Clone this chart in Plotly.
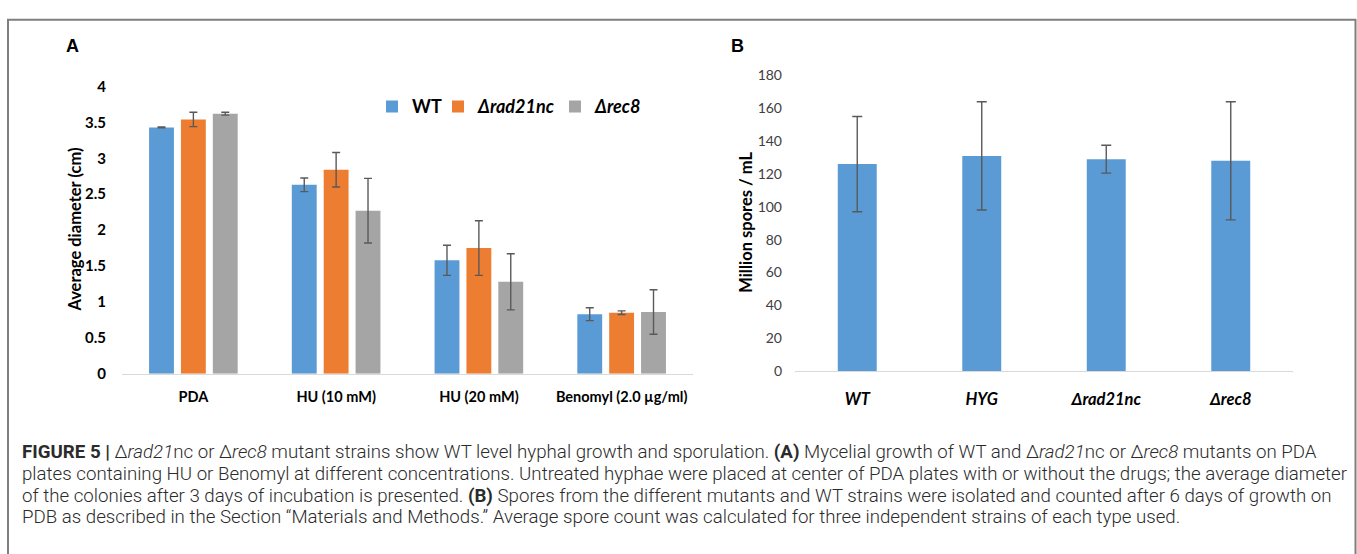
import plotly.graph_objects as go

W, H = 1357, 554

# ---------------- data ----------------
conditions = ["PDA", "HU (10 mM)", "HU (20 mM)", "Benomyl (2.0 µg/ml)"]
wt_diam = [3.43, 2.63, 1.58, 0.83]
wt_err = [0.005, 0.095, 0.21, 0.09]
rad21_diam = [3.54, 2.84, 1.75, 0.85]
rad21_err = [0.10, 0.24, 0.38, 0.025]
rec8_diam = [3.62, 2.27, 1.28, 0.86]
rec8_err = [0.02, 0.45, 0.39, 0.31]

strains = ["WT", "HYG", "Δrad21nc", "Δrec8"]
spores = [126, 131, 129, 128]
spores_err = [29, 33, 8.5, 36]

series_names = ["WT", "Δrad21nc", "Δrec8"]
colors = ["#5B9BD5", "#ED7D31", "#A5A5A5"]

caption_lines = [
    "<b>FIGURE 5 |</b> Δ<i>rad21</i>nc or Δ<i>rec8</i> mutant strains show WT level hyphal growth and sporulation. "
    "<b>(A)</b> Mycelial growth of WT and Δ<i>rad21</i>nc or Δ<i>rec8</i> mutants on PDA",
    "plates containing HU or Benomyl at different concentrations. Untreated hyphae were placed at center of PDA "
    "plates with or without the drugs; the average diameter",
    "of the colonies after 3 days of incubation is presented. <b>(B)</b> Spores from the different mutants and WT "
    "strains were isolated and counted after 6 days of growth on",
    "PDB as described in the Section “Materials and Methods.” Average spore count was calculated for three "
    "independent strains of each type used.",
]

# ---------------- helpers ----------------
def px_x(x):
    return x / W


def px_y(y):
    return 1 - y / H


FONT = "Lato, 'Open Sans', sans-serif"
ERR_COLOR = "#595959"

fig = go.Figure()

vals = [wt_diam, rad21_diam, rec8_diam]
errs = [wt_err, rad21_err, rec8_err]
legends = ["legend", "legend2", "legend3"]
for name, v, e, c, lg in zip(series_names, vals, errs, colors, legends):
    disp = "<b>%s</b>" % name if name == "WT" else "<b><i>%s</i></b>" % name
    fig.add_trace(go.Bar(
        x=conditions, y=v, name=disp, marker=dict(color=c, line=dict(width=0)),
        error_y=dict(type="data", array=e, color=ERR_COLOR, thickness=1.4, width=4),
        xaxis="x", yaxis="y", legend=lg, showlegend=True,
    ))

strain_labels = ["<b><i>%s</i></b>" % s for s in strains]
fig.add_trace(go.Bar(
    x=strain_labels, y=spores, width=0.313, showlegend=False,
    marker=dict(color="#5B9BD5", line=dict(width=0)),
    error_y=dict(type="data", array=spores_err, color=ERR_COLOR, thickness=1.4, width=5),
    xaxis="x2", yaxis="y2",
))

axis_line = dict(showline=True, linecolor="#D9D9D9", linewidth=1)

fig.update_layout(
    width=W, height=H,
    margin=dict(l=0, r=0, t=0, b=0),
    paper_bgcolor="white", plot_bgcolor="white",
    barmode="group", bargap=0.33, bargroupgap=0.22,
    font=dict(family=FONT, color="black"),
    xaxis=dict(domain=[px_x(122), px_x(693)], anchor="y", showgrid=False, zeroline=False,
               ticks="", ticklabelstandoff=10,
               tickfont=dict(family=FONT, size=14.5, color="black", weight="bold"), **axis_line),
    yaxis=dict(domain=[px_y(376), px_y(79)], anchor="x", range=[0, 4], dtick=0.5,
               showgrid=False, zeroline=False, showline=False, ticks="", ticklabelstandoff=15,
               tickfont=dict(family=FONT, size=15, color="black", weight="bold")),
    xaxis2=dict(domain=[px_x(795), px_x(1293)], anchor="y2", showgrid=False, zeroline=False,
                ticks="", ticklabelstandoff=13,
                tickfont=dict(family=FONT, size=16.5, color="black"), **axis_line),
    yaxis2=dict(domain=[px_y(373), px_y(67.7)], anchor="x2", range=[0, 180], dtick=20,
                showgrid=False, zeroline=False, showline=False, ticks="", ticklabelstandoff=12,
                tickfont=dict(family=FONT, size=14, color="#404040")),
)

legend_common = dict(orientation="v", yanchor="middle", xanchor="left", y=px_y(100),
                     bgcolor="rgba(0,0,0,0)", borderwidth=0,
                     font=dict(family=FONT, size=18, color="black"))
fig.update_layout(
    legend=dict(x=px_x(372), **legend_common),
    legend2=dict(x=px_x(438), **legend_common),
    legend3=dict(x=px_x(555), **legend_common),
)

ann = []
centered = dict(xref="paper", yref="paper", xanchor="center", yanchor="middle", showarrow=False)
# panel letters
ann.append(dict(text="<b>A</b>", x=px_x(72), y=px_y(37),
                font=dict(family="Liberation Sans, Arial", size=18, color="black"), **centered))
ann.append(dict(text="<b>B</b>", x=px_x(737), y=px_y(37),
                font=dict(family="Liberation Sans, Arial", size=18, color="black"), **centered))
# axis titles
ann.append(dict(text="<b>Average diameter (cm)</b>", x=px_x(75), y=px_y(227), textangle=-90,
                font=dict(family=FONT, size=16.5, color="black"), **centered))
ann.append(dict(text="<b>Million spores / mL</b>", x=px_x(746), y=px_y(220), textangle=-90,
                font=dict(family=FONT, size=16.5, color="black"), **centered))
# caption
for i, line in enumerate(caption_lines):
    ann.append(dict(text=line, x=px_x(20), y=px_y(457 + 22.5 * i), xref="paper", yref="paper",
                    xanchor="left", yanchor="middle", showarrow=False, align="left",
                    font=dict(family="Roboto, 'Liberation Sans', sans-serif", size=18.7,
                              color="#2b2b2b", weight=300)))
fig.update_layout(annotations=ann)

# outer frame
fig.add_shape(type="rect", xref="paper", yref="paper",
              x0=px_x(8), x1=px_x(1355.5), y0=-0.1, y1=px_y(10),
              line=dict(color="#7F7F7F", width=2), fillcolor="rgba(0,0,0,0)", layer="below")

fig.write_html("out.html", config={"displayModeBar": False},
               post_script="document.body.style.margin='0';document.body.style.overflow='hidden';")
